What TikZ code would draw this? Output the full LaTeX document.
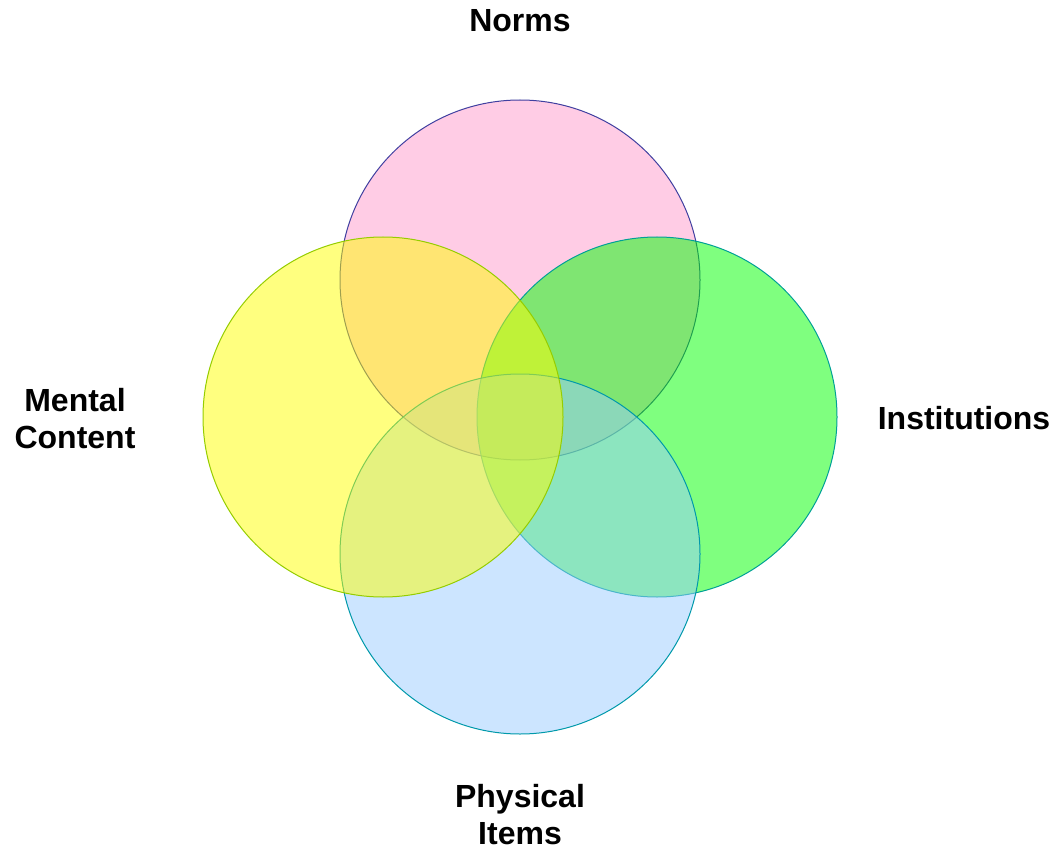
\documentclass[tikz,border=0pt]{standalone}
\usepackage{fontspec}
\setmainfont{Liberation Sans}
\begin{document}
\begin{tikzpicture}[x=1pt,y=-1pt,
  setcircle/.style={circle, minimum size=360pt, inner sep=0pt, line width=1pt, fill opacity=0.5},
  setlabel/.style={font=\fontsize{32}{37}\selectfont\bfseries, align=center, inner sep=0pt, text=black}]
  \useasboundingbox (0,0) rectangle (1054,850);
  % the four overlapping sets
  \node[setcircle, fill={rgb,255:red,255;green,153;blue,204}, draw={rgb,255:red,64;green,64;blue,160}] (norms) at (520,280) {};
  \node[setcircle, fill={rgb,255:red,0;green,255;blue,0}, draw={rgb,255:red,0;green,160;blue,150}] (inst) at (657,417) {};
  \node[setcircle, fill={rgb,255:red,153;green,204;blue,255}, draw={rgb,255:red,0;green,153;blue,170}] (phys) at (520,554) {};
  \node[setcircle, fill={rgb,255:red,255;green,255;blue,0}, draw={rgb,255:red,150;green,205;blue,0}] (mental) at (383,417) {};
  % labels
  \node[setlabel] (normslabel) at (520,21) {Norms};
  \node[setlabel] (instlabel) at (964,418) {Institutions};
  \node[setlabel] (mentallabel) at (75,418.5) {Mental\\Content};
  \node[setlabel] (physlabel) at (520,815) {Physical\\Items};
\end{tikzpicture}
\end{document}
